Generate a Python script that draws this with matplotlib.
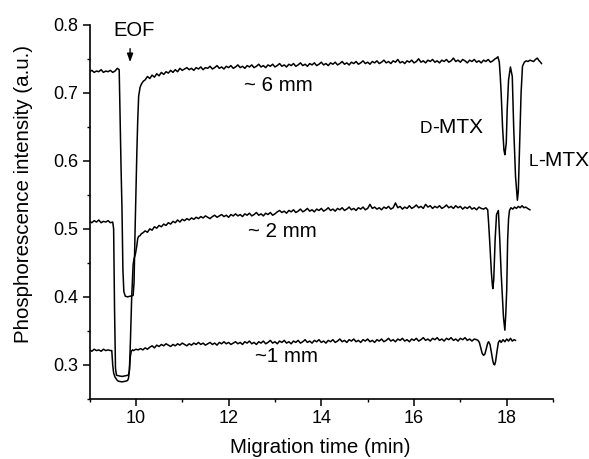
import numpy as np
import matplotlib
matplotlib.use("Agg")
import matplotlib.pyplot as plt

plt.rcParams['font.family'] = ['Liberation Sans', 'DejaVu Sans']

# ---------------- data ----------------
# ~6 mm trace
t6_pre = np.round(np.arange(9.00, 9.601, 0.05), 2)
v6_pre = [0.731, 0.733, 0.730, 0.732, 0.731, 0.734, 0.730, 0.732, 0.731, 0.733,
          0.730, 0.732, 0.736]
t6_eof = [9.64, 9.66, 9.68, 9.70, 9.72, 9.74, 9.77, 9.82, 9.88, 9.94, 9.96, 9.98,
          10.00, 10.02, 10.04, 10.06, 10.09, 10.12, 10.16]
v6_eof = [0.734, 0.660, 0.590, 0.530, 0.440, 0.408, 0.401, 0.400, 0.401, 0.402, 0.420,
          0.490, 0.550, 0.610, 0.660, 0.695, 0.708, 0.713, 0.717]
t6_base = np.round(np.arange(10.20, 17.751, 0.05), 2)
v6_base = [0.719, 0.724, 0.721, 0.726, 0.723, 0.728, 0.725, 0.730, 0.727, 0.731,
           0.729, 0.733, 0.730, 0.734, 0.731, 0.736, 0.733, 0.735, 0.737, 0.734,
           0.736, 0.733, 0.737, 0.735, 0.738, 0.734, 0.737, 0.736, 0.739, 0.735,
           0.737, 0.740, 0.736, 0.738, 0.735, 0.739, 0.737, 0.740, 0.736, 0.738,
           0.741, 0.737, 0.739, 0.736, 0.740, 0.738, 0.741, 0.737, 0.739, 0.742,
           0.738, 0.740, 0.737, 0.741, 0.739, 0.742, 0.738, 0.740, 0.743, 0.739,
           0.741, 0.738, 0.742, 0.740, 0.743, 0.739, 0.741, 0.744, 0.740, 0.742,
           0.739, 0.743, 0.741, 0.744, 0.740, 0.742, 0.745, 0.741, 0.743, 0.740,
           0.744, 0.742, 0.745, 0.741, 0.743, 0.746, 0.742, 0.744, 0.741, 0.745,
           0.743, 0.746, 0.742, 0.744, 0.747, 0.743, 0.745, 0.742, 0.746, 0.744,
           0.747, 0.743, 0.745, 0.748, 0.744, 0.746, 0.743, 0.747, 0.745, 0.749,
           0.744, 0.746, 0.743, 0.747, 0.745, 0.748, 0.744, 0.746, 0.750, 0.745,
           0.747, 0.744, 0.748, 0.746, 0.749, 0.745, 0.747, 0.744, 0.748, 0.746,
           0.749, 0.745, 0.747, 0.751, 0.746, 0.748, 0.745, 0.749, 0.747, 0.744,
           0.748, 0.746, 0.749, 0.745, 0.747, 0.744, 0.748, 0.746, 0.749, 0.745,
           0.747, 0.750]
t6_pk = [17.78, 17.81, 17.84, 17.86, 17.88, 17.91, 17.94, 17.96, 17.99, 18.01, 18.04,
         18.08, 18.12, 18.15, 18.19, 18.23, 18.25, 18.28, 18.31, 18.34, 18.38]
v6_pk = [0.751, 0.753, 0.745, 0.725, 0.700, 0.650, 0.616, 0.609, 0.626, 0.675, 0.719,
         0.738, 0.724, 0.650, 0.577, 0.542, 0.555, 0.626, 0.700, 0.739, 0.745]
t6_end = [18.42, 18.46, 18.50, 18.54, 18.58, 18.62, 18.66, 18.70, 18.73, 18.75]
v6_end = [0.747, 0.746, 0.748, 0.747, 0.746, 0.749, 0.751, 0.747, 0.745, 0.743]

# ~2 mm trace
t2_pre = np.round(np.arange(9.00, 9.501, 0.05), 2)
v2_pre = [0.511, 0.509, 0.512, 0.510, 0.513, 0.509, 0.511, 0.510, 0.512, 0.509, 0.510]
t2_eof = [9.52, 9.54, 9.56, 9.58, 9.62, 9.70, 9.78, 9.84, 9.86, 9.88, 9.91, 9.94,
          9.96, 9.99, 10.02, 10.04, 10.06, 10.09, 10.12]
v2_eof = [0.500, 0.380, 0.295, 0.285, 0.284, 0.283, 0.284, 0.285, 0.292, 0.330, 0.400,
          0.447, 0.456, 0.463, 0.475, 0.486, 0.489, 0.490, 0.493]
t2_base = np.round(np.arange(10.15, 17.551, 0.05), 2)
v2_base = [0.494, 0.497, 0.495, 0.500, 0.498, 0.503, 0.501, 0.505, 0.503, 0.507,
           0.505, 0.509, 0.507, 0.511, 0.509, 0.513, 0.510, 0.514, 0.512, 0.515,
           0.513, 0.516, 0.514, 0.517, 0.515, 0.518, 0.516, 0.519, 0.517, 0.515,
           0.518, 0.520, 0.517, 0.519, 0.521, 0.518, 0.520, 0.517, 0.521, 0.519,
           0.522, 0.519, 0.521, 0.518, 0.522, 0.520, 0.523, 0.519, 0.521, 0.524,
           0.520, 0.522, 0.519, 0.523, 0.521, 0.524, 0.520, 0.522, 0.525, 0.527,
           0.524, 0.526, 0.523, 0.527, 0.525, 0.528, 0.524, 0.526, 0.529, 0.525,
           0.527, 0.530, 0.526, 0.528, 0.525, 0.529, 0.527, 0.530, 0.526, 0.528,
           0.531, 0.527, 0.529, 0.526, 0.530, 0.528, 0.531, 0.527, 0.529, 0.532,
           0.528, 0.530, 0.527, 0.531, 0.529, 0.532, 0.528, 0.530, 0.536, 0.530,
           0.532, 0.529, 0.531, 0.528, 0.532, 0.530, 0.533, 0.529, 0.531, 0.538,
           0.531, 0.533, 0.529, 0.532, 0.530, 0.534, 0.530, 0.532, 0.535, 0.531,
           0.533, 0.530, 0.536, 0.532, 0.534, 0.530, 0.533, 0.531, 0.534, 0.530,
           0.532, 0.535, 0.531, 0.533, 0.530, 0.534, 0.531, 0.533, 0.529, 0.532,
           0.530, 0.533, 0.529, 0.531, 0.528, 0.532, 0.530, 0.529, 0.531]
t2_pk = [17.59, 17.61, 17.63, 17.65, 17.67, 17.69, 17.70, 17.72, 17.75, 17.78, 17.82,
         17.85, 17.88, 17.90, 17.93, 17.96, 17.98, 18.00, 18.02, 18.04, 18.06, 18.09]
v2_pk = [0.528, 0.508, 0.485, 0.459, 0.435, 0.418, 0.412, 0.425, 0.484, 0.521, 0.527,
         0.484, 0.435, 0.410, 0.370, 0.351, 0.375, 0.410, 0.484, 0.515, 0.527, 0.531]
t2_end = [18.13, 18.17, 18.21, 18.25, 18.29, 18.33, 18.37, 18.41, 18.45, 18.50]
v2_end = [0.529, 0.532, 0.530, 0.533, 0.531, 0.534, 0.531, 0.532, 0.530, 0.528]

# ~1 mm trace
t1_pre = np.round(np.arange(9.00, 9.451, 0.05), 2)
v1_pre = [0.322, 0.320, 0.323, 0.321, 0.322, 0.320, 0.323, 0.321, 0.322, 0.321]
t1_eof = [9.48, 9.50, 9.52, 9.55, 9.59, 9.62, 9.70, 9.78, 9.82, 9.84, 9.86, 9.88,
          9.90, 9.93]
v1_eof = [0.321, 0.300, 0.288, 0.282, 0.278, 0.276, 0.275, 0.276, 0.277, 0.280, 0.292,
          0.312, 0.320, 0.322]
t1_base = np.round(np.arange(9.95, 17.351, 0.05), 2)
v1_base = [0.321, 0.323, 0.322, 0.324, 0.322, 0.325, 0.323, 0.326, 0.328, 0.325,
           0.329, 0.327, 0.330, 0.328, 0.331, 0.329, 0.327, 0.330, 0.328, 0.331,
           0.329, 0.332, 0.330, 0.328, 0.331, 0.329, 0.332, 0.330, 0.333, 0.330,
           0.332, 0.329, 0.331, 0.333, 0.330, 0.332, 0.329, 0.333, 0.331, 0.334,
           0.331, 0.333, 0.330, 0.332, 0.334, 0.331, 0.333, 0.330, 0.334, 0.332,
           0.335, 0.331, 0.333, 0.330, 0.334, 0.332, 0.335, 0.331, 0.333, 0.336,
           0.332, 0.334, 0.331, 0.335, 0.333, 0.336, 0.332, 0.334, 0.331, 0.335,
           0.333, 0.336, 0.332, 0.334, 0.337, 0.333, 0.335, 0.332, 0.336, 0.334,
           0.337, 0.333, 0.335, 0.332, 0.336, 0.334, 0.337, 0.333, 0.335, 0.338,
           0.334, 0.336, 0.333, 0.337, 0.335, 0.338, 0.334, 0.336, 0.333, 0.337,
           0.335, 0.338, 0.334, 0.336, 0.333, 0.337, 0.335, 0.338, 0.334, 0.336,
           0.339, 0.335, 0.337, 0.334, 0.338, 0.336, 0.339, 0.335, 0.337, 0.334,
           0.338, 0.336, 0.339, 0.335, 0.337, 0.340, 0.336, 0.338, 0.335, 0.339,
           0.337, 0.340, 0.336, 0.338, 0.335, 0.339, 0.337, 0.340, 0.336, 0.338,
           0.335, 0.339, 0.337, 0.340, 0.336, 0.338, 0.335, 0.338, 0.337]
t1_pk = [17.38, 17.41, 17.44, 17.47, 17.50, 17.53, 17.56, 17.59, 17.61, 17.64, 17.67,
         17.70, 17.72, 17.74, 17.76, 17.79, 17.82, 17.85]
v1_pk = [0.336, 0.333, 0.325, 0.317, 0.314, 0.316, 0.324, 0.332, 0.334, 0.330, 0.318,
         0.306, 0.301, 0.300, 0.305, 0.320, 0.333, 0.336]
t1_end = [17.88, 17.92, 17.96, 18.00, 18.04, 18.08, 18.12, 18.16, 18.19]
v1_end = [0.333, 0.337, 0.334, 0.338, 0.335, 0.339, 0.335, 0.337, 0.336]

traces = {
    '6mm': (np.concatenate([t6_pre, t6_eof, t6_base, t6_pk, t6_end]),
            np.concatenate([v6_pre, v6_eof, v6_base, v6_pk, v6_end])),
    '2mm': (np.concatenate([t2_pre, t2_eof, t2_base, t2_pk, t2_end]),
            np.concatenate([v2_pre, v2_eof, v2_base, v2_pk, v2_end])),
    '1mm': (np.concatenate([t1_pre, t1_eof, t1_base, t1_pk, t1_end]),
            np.concatenate([v1_pre, v1_eof, v1_base, v1_pk, v1_end])),
}

# ---------------- figure ----------------
fig = plt.figure(figsize=(5.89, 4.59), dpi=100)
ax = fig.add_axes([0.152, 0.131, 0.787, 0.815])

for name, (t, v) in traces.items():
    ax.plot(t, v, color='black', lw=1.1)

ax.set_xlim(9, 19)
ax.set_ylim(0.25, 0.8)
ax.set_xticks([10, 12, 14, 16, 18])
ax.set_xticks(np.arange(9, 19.5, 1), minor=True)
ax.set_yticks([0.3, 0.4, 0.5, 0.6, 0.7, 0.8])
ax.set_yticks(np.arange(0.25, 0.81, 0.05), minor=True)
ax.set_yticklabels(['0.3', '0.4', '0.5', '0.6', '0.7', '0.8'])

for s in ['top', 'right']:
    ax.spines[s].set_visible(False)
for s in ['left', 'bottom']:
    ax.spines[s].set_linewidth(1.2)
ax.tick_params(which='major', direction='out', length=5, width=1.1,
               labelsize=13, pad=3)
ax.tick_params(which='minor', direction='out', length=2.5, width=1.0)

ax.set_xlabel('Migration time (min)', fontsize=14.8)
ax.set_ylabel('Phosphorescence intensity (a.u.)', fontsize=14.8)
ax.xaxis.set_label_coords(0.498, -0.105)
ax.yaxis.set_label_coords(-0.121, 0.547)

# annotations
ax.text(9.96, 0.792, 'EOF', fontsize=14.5, ha='center', va='center')
ax.annotate('', xy=(9.875, 0.741), xytext=(9.875, 0.769),
            arrowprops=dict(arrowstyle='-|>,head_length=0.5,head_width=0.18',
                            color='black', lw=1.0))
ax.text(13.07, 0.710, '~ 6 mm', fontsize=14.8, ha='center', va='center')
ax.text(13.15, 0.496, '~ 2 mm', fontsize=14.8, ha='center', va='center')
ax.text(13.24, 0.312, '~1 mm', fontsize=14.8, ha='center', va='center')

ax.text(16.40, 0.641, 'D', fontsize=12.5, ha='right', va='baseline')
ax.text(16.40, 0.641, '-MTX', fontsize=15, ha='left', va='baseline')
ax.text(18.68, 0.593, 'L', fontsize=12.5, ha='right', va='baseline')
ax.text(18.68, 0.593, '-MTX', fontsize=15, ha='left', va='baseline')

fig.savefig('out.png', dpi=100)
